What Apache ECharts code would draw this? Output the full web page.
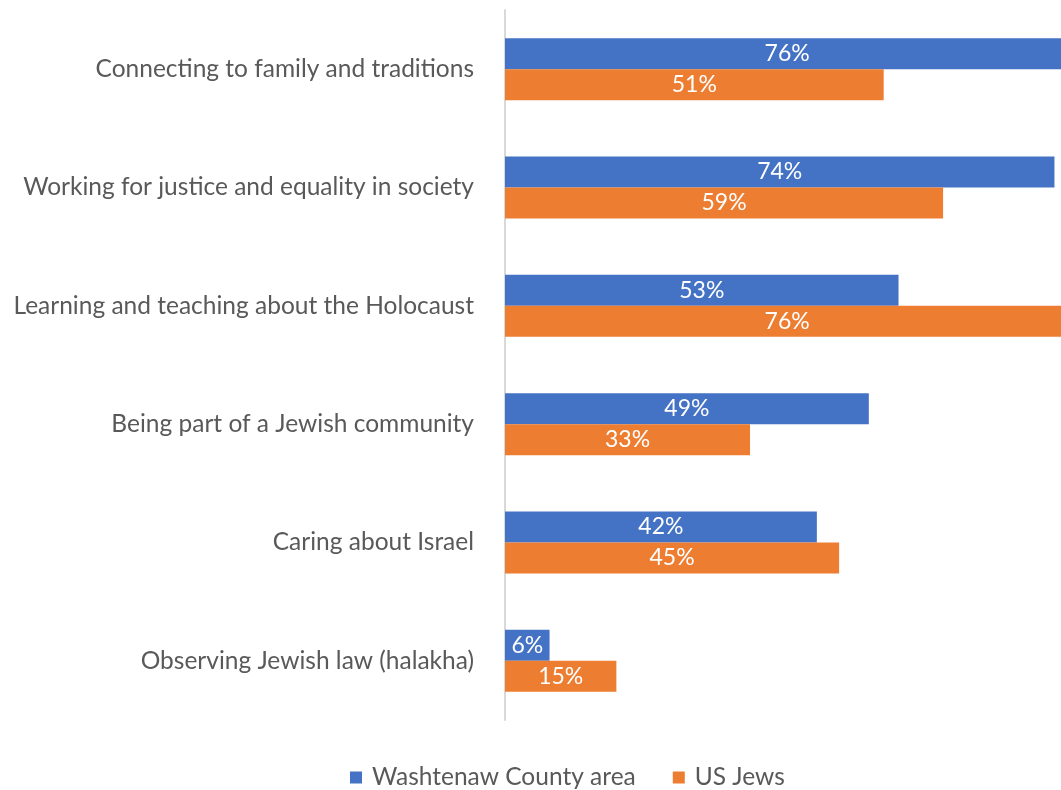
<!DOCTYPE html>
<html>
<head>
<meta charset="utf-8">
<script src="https://cdn.jsdelivr.net/npm/echarts@6/dist/echarts.min.js"></script>
<style>
  html, body { margin: 0; padding: 0; background: #ffffff; }
  #chart { width: 1061px; height: 790px; }
</style>
</head>
<body>
<div id="chart"></div>
<script>
// Motivations for Jewish life: share of respondents, by group
const categories = [
  'Connecting to family and traditions',
  'Working for justice and equality in society',
  'Learning and teaching about the Holocaust',
  'Being part of a Jewish community',
  'Caring about Israel',
  'Observing Jewish law (halakha)'
];
const washtenaw = [76, 74, 53, 49, 42, 6];
const usJews = [51, 59, 76, 33, 45, 15];
const seriesNames = ['Washtenaw County area', 'US Jews'];

const FONT = '"Lato", "Open Sans", sans-serif';

const chart = echarts.init(document.getElementById('chart'), null, { renderer: 'canvas' });

const labelStyle = {
  show: true,
  position: 'inside',
  color: '#ffffff',
  fontSize: 23,
  fontFamily: FONT,
  formatter: p => p.value + '%'
};

chart.setOption({
  animation: false,
  backgroundColor: '#ffffff',
  // plot area runs a little past the right edge of the canvas
  grid: { left: 505, width: 594, top: 10, height: 710, containLabel: false, outerBoundsMode: 'none' },
  legend: {
    top: 760,
    left: 345,
    itemWidth: 12,
    itemHeight: 12,
    itemGap: 37,
    icon: 'rect',
    textStyle: { color: '#595959', fontSize: 24.5, fontFamily: FONT, padding: [0, 0, 0, 5] },
    data: seriesNames
  },
  xAxis: {
    type: 'value',
    min: 0,
    max: 80,
    show: false
  },
  yAxis: {
    type: 'category',
    inverse: true,
    data: categories,
    axisLine: { show: true, lineStyle: { color: '#d9d9d9', width: 2 } },
    axisTick: { show: false },
    axisLabel: { color: '#595959', fontSize: 24.5, fontFamily: FONT, margin: 31 }
  },
  series: [
    {
      name: seriesNames[0],
      type: 'bar',
      data: washtenaw,
      barWidth: 31,
      barGap: '0%',
      itemStyle: { color: '#4472C4' },
      label: labelStyle
    },
    {
      name: seriesNames[1],
      type: 'bar',
      data: usJews,
      barWidth: 31,
      itemStyle: { color: '#ED7D31' },
      label: labelStyle
    }
  ]
});
</script>
</body>
</html>
